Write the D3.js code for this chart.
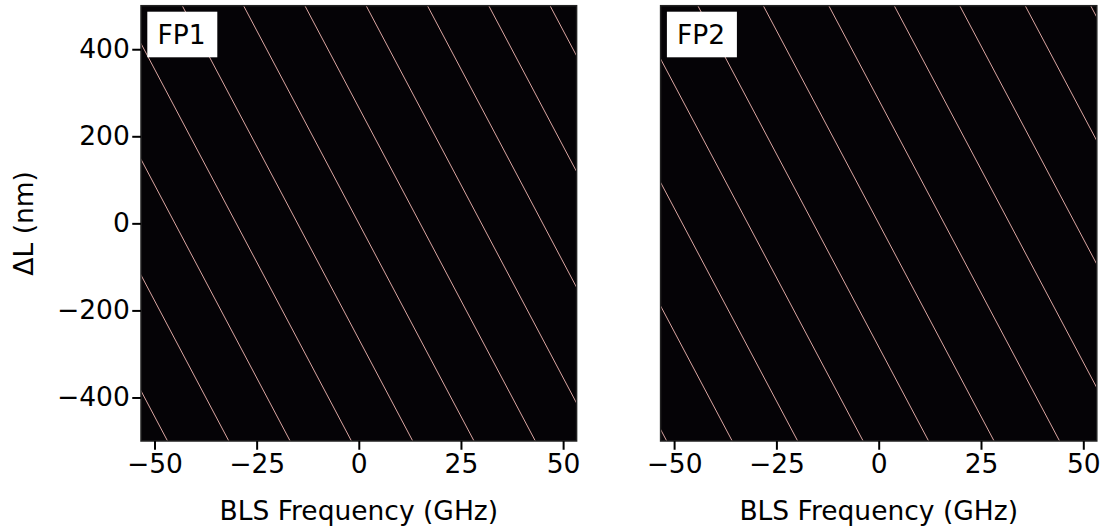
<!DOCTYPE html>
<html>
<head>
<meta charset="utf-8">
<script src="https://cdn.jsdelivr.net/npm/d3@7"></script>
<style>
  html, body { margin: 0; padding: 0; background: #ffffff; }
  svg { display: block; }
  text { font-family: "DejaVu Sans", sans-serif; fill: #000; }
</style>
</head>
<body>
<svg id="chart" width="1106" height="529"></svg>
<script>
// ---- data ----
const panelNames = ["FP1", "FP2"];
const xTicks = [-50, -25, 0, 25, 50];
const yTicks = [-400, -200, 0, 200, 400];
const xDomain = [-53.3, 53.3];
const yDomain = [-500, 500];
const dLEnds = [500, -500];              // ΔL (nm) at the two ends of each resonance line
// FP1 resonance lines: BLS frequency (GHz) at ΔL = +500 and at ΔL = -500
const fp1AtTop    = [-103.2, -88.2, -73.2, -58.2, -43.2, -28.2, -13.2, 1.8, 16.8, 31.8, 46.8];
const fp1AtBottom = [-46.8, -31.8, -16.8, -1.8, 13.2, 28.2, 43.2, 58.2, 73.2, 88.2, 103.2];
// FP2 resonance lines: BLS frequency (GHz) at ΔL = +500 and at ΔL = -500
const fp2AtTop    = [-108.2, -92.2, -76.2, -60.2, -44.2, -28.2, -12.2, 3.8, 19.8, 35.8, 51.8];
const fp2AtBottom = [-51.8, -35.8, -19.8, -3.8, 12.2, 28.2, 44.2, 60.2, 76.2, 92.2, 108.2];

const panels = [
  { name: panelNames[0], top: fp1AtTop, bottom: fp1AtBottom, x0: 141, x1: 576.6, yLabels: true },
  { name: panelNames[1], top: fp2AtTop, bottom: fp2AtBottom, x0: 660.6, x1: 1096.8, yLabels: false }
];

const svg = d3.select("#chart");
const yTop = 5.7, yBot = 441;
const y = d3.scaleLinear().domain(yDomain).range([yBot, yTop]);
const FS = 26.5;

panels.forEach((p, i) => {
  const x = d3.scaleLinear().domain(xDomain).range([p.x0, p.x1]);
  const g = svg.append("g");

  const clipId = "clip" + i;
  svg.append("clipPath").attr("id", clipId)
    .append("rect").attr("x", p.x0).attr("y", yTop)
    .attr("width", p.x1 - p.x0).attr("height", yBot - yTop);

  // background (image area)
  g.append("rect").attr("x", p.x0).attr("y", yTop)
    .attr("width", p.x1 - p.x0).attr("height", yBot - yTop)
    .attr("fill", "#050306");

  // resonance lines
  const lines = p.top.map((f, k) => [[f, dLEnds[0]], [p.bottom[k], dLEnds[1]]]);
  g.append("g").attr("clip-path", `url(#${clipId})`)
    .selectAll("line").data(lines).join("line")
    .attr("x1", d => x(d[0][0])).attr("y1", d => y(d[0][1]))
    .attr("x2", d => x(d[1][0])).attr("y2", d => y(d[1][1]))
    .attr("stroke", "#dca6a2").attr("stroke-width", 1);

  // frame
  g.append("rect").attr("x", p.x0).attr("y", yTop)
    .attr("width", p.x1 - p.x0).attr("height", yBot - yTop)
    .attr("fill", "none").attr("stroke", "#222").attr("stroke-width", 1.5);

  // x axis
  const xAxis = d3.axisBottom(x).tickValues(xTicks).tickFormat(d3.format("d"))
    .tickSizeInner(8.75).tickSizeOuter(0).tickPadding(4);
  const xa = g.append("g").attr("transform", `translate(0,${yBot})`).call(xAxis);
  xa.select(".domain").remove();
  xa.selectAll(".tick line").attr("stroke", "#000").attr("stroke-width", 2);
  xa.selectAll(".tick text").style("font-size", FS + "px").style("font-family", "DejaVu Sans")
    .attr("fill", "#000");

  g.append("text").attr("x", (p.x0 + p.x1) / 2).attr("y", 520)
    .attr("text-anchor", "middle").style("font-size", FS + "px").text("BLS Frequency (GHz)");

  // y axis
  if (p.yLabels) {
    const yAxis = d3.axisLeft(y).tickValues(yTicks).tickFormat(d3.format("d"))
      .tickSizeInner(8.75).tickSizeOuter(0).tickPadding(2.5);
    const ya = g.append("g").attr("transform", `translate(${p.x0},0)`).call(yAxis);
    ya.select(".domain").remove();
    ya.selectAll(".tick line").attr("stroke", "#000").attr("stroke-width", 2);
    ya.selectAll(".tick text").style("font-size", FS + "px").style("font-family", "DejaVu Sans")
      .attr("fill", "#000");
    g.append("text").attr("transform", `translate(33,${y(0)}) rotate(-90)`)
      .attr("text-anchor", "middle").style("font-size", FS + "px").text("ΔL (nm)");
  }

  // label box
  g.append("rect").attr("x", p.x0 + 6.3).attr("y", 11.7)
    .attr("width", 70).attr("height", 45.6).attr("fill", "#fff");
  g.append("text").attr("x", p.x0 + 16.5).attr("y", 43.5)
    .style("font-size", FS + "px").text(p.name);
});
</script>
</body>
</html>
